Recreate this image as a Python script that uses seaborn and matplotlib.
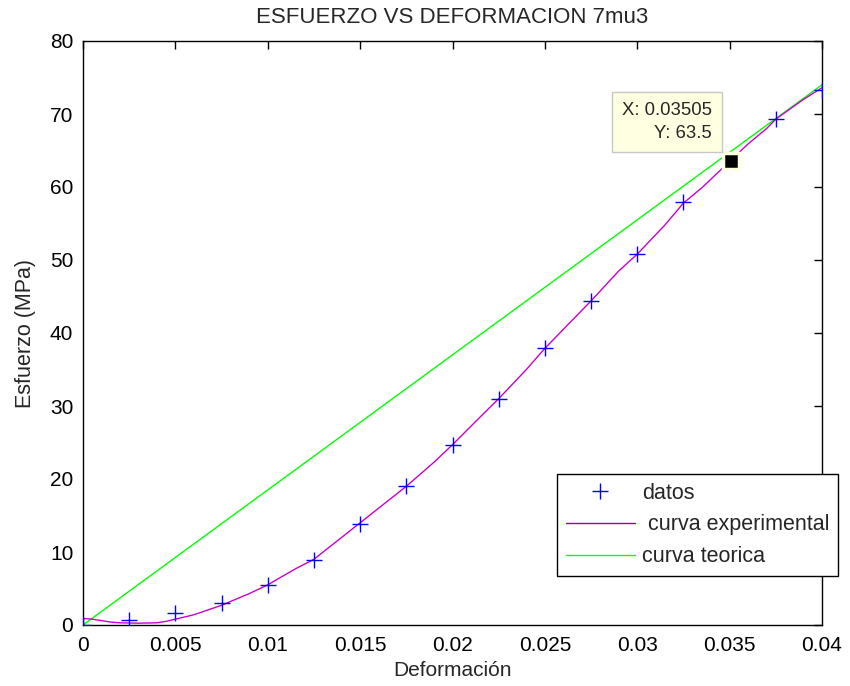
import numpy as np
import pandas as pd
import matplotlib
matplotlib.use("Agg")
import matplotlib.pyplot as plt
import seaborn as sns
from matplotlib.lines import Line2D

# ---- data ----
datos_x = [0, 0.0025, 0.005, 0.0075, 0.01, 0.0125, 0.015, 0.0175, 0.02, 0.0225,
           0.025, 0.0275, 0.03, 0.0325, 0.035, 0.0375, 0.04]
datos_y = [0, 0.7, 1.7, 3.0, 5.5, 8.9, 13.9, 19.0, 24.6, 30.9,
           37.9, 44.4, 50.8, 57.9, 63.5, 69.3, 73.3]

exp_x = [0, 0.0005, 0.001, 0.0015, 0.002, 0.003, 0.004, 0.0045, 0.005, 0.006,
         0.0075, 0.009, 0.01, 0.0115, 0.0125, 0.014, 0.015, 0.0165, 0.0175, 0.019,
         0.02, 0.0215, 0.0225, 0.024, 0.025, 0.0265, 0.0275, 0.029, 0.03, 0.0315,
         0.0325, 0.0335, 0.035, 0.036, 0.037, 0.0375, 0.038, 0.039, 0.04]
exp_y = [0.9, 0.8, 0.6, 0.4, 0.3, 0.25, 0.3, 0.5, 0.8, 1.4,
         2.7, 4.3, 5.5, 7.7, 9.0, 12.0, 14.0, 17.0, 19.0, 22.3,
         24.7, 28.5, 31.0, 35.0, 37.9, 41.8, 44.4, 48.5, 50.8, 54.8,
         57.8, 59.9, 63.5, 65.9, 68.0, 69.3, 70.2, 72.0, 73.6]

teo_x = [0, 0.04]
teo_y = [0, 74.0]

tip_x, tip_y = 0.03505, 63.5

x_ticks = [0, 0.005, 0.01, 0.015, 0.02, 0.025, 0.03, 0.035, 0.04]
x_ticklabels = ["0", "0.005", "0.01", "0.015", "0.02", "0.025", "0.03", "0.035", "0.04"]
y_ticks = [0, 10, 20, 30, 40, 50, 60, 70, 80]

sns.set_style("white")
plt.rcParams['font.family'] = ['Liberation Sans', 'DejaVu Sans']

fig = plt.figure(figsize=(8.5, 6.86), dpi=100)
ax = fig.add_axes([83/850, 1-625/686, (822-83)/850, (625-41)/686])

FS = 15

sns.lineplot(x=exp_x, y=exp_y, ax=ax, color='#cc00cc', linewidth=1.0,
             sort=False, estimator=None, zorder=3)
sns.lineplot(x=teo_x, y=teo_y, ax=ax, color='#00ff00', linewidth=1.0,
             sort=False, estimator=None, zorder=2)
sns.scatterplot(x=datos_x, y=datos_y, ax=ax, marker='+', color='#0000ff',
                s=120, linewidth=1.0, zorder=4)

# data tip
ax.plot([tip_x], [tip_y], marker='s', markersize=12, color='black',
        markeredgecolor='#ffffe1', markeredgewidth=2.5, zorder=6, clip_on=False)
ax.text(0.03403, 68.95, "X: 0.03505\nY: 63.5", ha='right', va='center', fontsize=13.3,
        linespacing=1.45, zorder=7,
        bbox=dict(boxstyle='square,pad=0.55', facecolor='#ffffe1', edgecolor='#c8c8c8',
                  linewidth=1.0))

ax.set_xlim(0, 0.04)
ax.set_ylim(0, 80)
ax.set_xticks(x_ticks)
ax.set_xticklabels(x_ticklabels)
ax.set_yticks(y_ticks)
ax.tick_params(direction='in', length=6, width=1, top=True, right=True,
               labelsize=FS, colors='black')
ax.tick_params(axis='x', pad=8)
ax.tick_params(axis='y', pad=7)
for sp in ax.spines.values():
    sp.set_color('black')
    sp.set_linewidth(1.0)
    sp.set_visible(True)

ax.set_title("ESFUERZO VS DEFORMACION 7mu3", fontsize=16, pad=13)
ax.set_xlabel("Deformación", fontsize=FS, labelpad=4)
ax.set_ylabel("Esfuerzo (MPa)", fontsize=15.5, labelpad=10)

handles = [
    Line2D([], [], linestyle='none', marker='+', color='#0000ff', markersize=11, markeredgewidth=1.0),
    Line2D([], [], color='#990099', linewidth=1.0),
    Line2D([], [], color='#00ff00', linewidth=1.0),
]
labels = ["datos", " curva experimental", "curva teorica"]
leg = ax.legend(handles, labels, loc='upper left', bbox_to_anchor=(557/850, 1-474/686),
                bbox_transform=fig.transFigure, fontsize=15.5, frameon=True,
                fancybox=False, edgecolor='black', framealpha=1, handlelength=3.2,
                handletextpad=0.35, borderpad=0.4, labelspacing=0.5, borderaxespad=0)
leg.get_frame().set_linewidth(1.0)

fig.savefig("out.png", dpi=100, facecolor='white')
